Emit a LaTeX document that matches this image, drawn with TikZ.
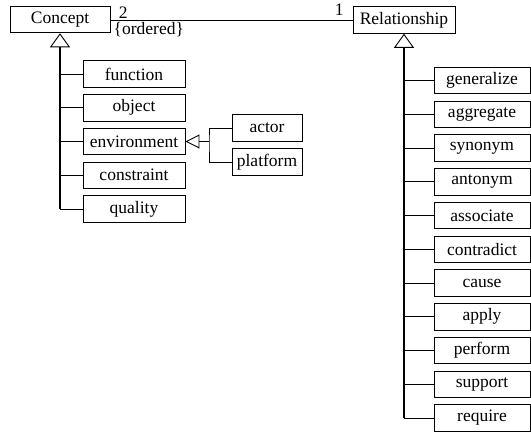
\documentclass[tikz,border=0pt]{standalone}
\usepackage{fontspec}
\setmainfont{Liberation Serif}
\usetikzlibrary{arrows.meta}
\begin{document}
\begin{tikzpicture}[x=1pt,y=-1pt,
  every node/.style={font=\fontsize{17.5}{20}\selectfont},
  cls/.style={draw, line width=0.9pt, inner sep=0pt, minimum height=26.6pt},
  leftsub/.style={cls, minimum width=102pt},
  rightsub/.style={cls, minimum width=96pt},
  envsub/.style={cls, minimum width=70pt},
  trunk/.style={line width=1.6pt},
  branch/.style={line width=0.9pt},
  gen/.style={-{Triangle[open, length=14pt, width=20pt, line width=0.9pt]}},
  gensmall/.style={-{Triangle[open, length=14pt, width=14pt, line width=0.9pt]}},
  lbl/.style={inner sep=0pt, anchor=base}
]
\useasboundingbox (0,0) rectangle (531,434);

% top-level classes and their association
\node[cls, minimum width=100pt] (concept) at (60,19.5) {Concept};
\node[cls, minimum width=102pt] (rel) at (404,20) {Relationship};
\draw[branch] (concept.east |- 0,20) -- (rel.west |- 0,20);
\node[lbl] (m2) at (123.3,18.3) {2};
\node[lbl] (ord) at (148.8,34.8) {\{ordered\}};
\node[lbl] (m1) at (339.2,15.5) {1};

% Concept specialisations
\foreach \name/\txt [count=\i from 0] in {function/function, object/object, environment/environment, constraint/constraint, quality/quality}{
  \node[leftsub] (\name) at (134,74+33.75*\i) {\txt};
  \draw[branch] (60,74+33.75*\i) -- (\name.west);
}
\coordinate (cbot) at (60,209);
\draw[trunk] (cbot) -- (60,47);
\draw[gen, line width=0.9pt] (60,47.2) -- (concept.south);

% environment specialisations
\node[envsub] (actor) at (267,128) {actor};
\node[envsub] (platform) at (267,162) {platform};
\coordinate (ejoin) at (209,141.5);
\draw[branch] (actor.west) -| (ejoin) |- (platform.west);
\draw[branch, gensmall] (ejoin) -- (environment.east);

% Relationship specialisations
\foreach \name [count=\i from 0] in {generalize, aggregate, synonym, antonym, associate, contradict, cause, apply, perform, support, require}{
  \node[rightsub] (\name) at (482,80.5+33.75*\i) {\name};
  \draw[branch] (404,80.5+33.75*\i) -- (\name.west);
}
\coordinate (rbot) at (404,418);
\draw[trunk] (rbot) -- (404,47.5);
\draw[gen, line width=0.9pt] (404,47.7) -- (rel.south);
\end{tikzpicture}
\end{document}
